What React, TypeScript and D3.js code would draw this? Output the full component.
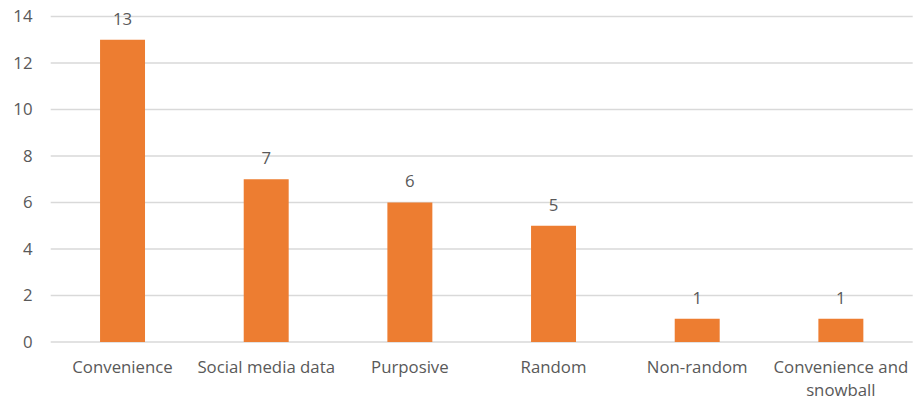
import React from "react";
import * as d3 from "d3";

const categories: string[][] = [
  ["Convenience"],
  ["Social media data"],
  ["Purposive"],
  ["Random"],
  ["Non-random"],
  ["Convenience and", "snowball"],
];
const counts: number[] = [13, 7, 6, 5, 1, 1];
const yTicks: number[] = [0, 2, 4, 6, 8, 10, 12, 14];

const W = 914;
const H = 402;
const left = 50.7;
const right = 912.7;
const top = 16.5;
const bottom = 342;
const FONT = "'Open Sans', 'Liberation Sans', sans-serif";
const TEXT = "#595959";
const FS = 16.8;

export default function App() {
  const x = d3
    .scaleBand<number>()
    .domain(counts.map((_, i) => i))
    .range([left, right])
    .paddingInner(0.687)
    .paddingOuter(0.687 / 2);
  const y = d3.scaleLinear().domain([0, 14]).range([bottom, top]);

  return (
    <svg
      width={W}
      height={H}
      style={{ position: "absolute", left: 0, top: 0, background: "#fff" }}
      fontFamily={FONT}
    >
      {yTicks.map((t) => (
        <g key={t}>
          <line x1={left} x2={right} y1={y(t)} y2={y(t)} stroke="#d9d9d9" strokeWidth={1.3} />
          <text x={32.5} y={y(t)} dy="0.35em" textAnchor="end" fontSize={FS} fill={TEXT}>
            {t}
          </text>
        </g>
      ))}
      {counts.map((v, i) => {
        const bx = x(i)!;
        const bw = x.bandwidth();
        const cx = bx + bw / 2;
        return (
          <g key={i}>
            <rect x={bx} y={y(v)} width={bw} height={y(0) - y(v)} fill="#ED7D31" />
            <text x={cx} y={y(v) - 21} dy="0.35em" textAnchor="middle" fontSize={FS} fill={TEXT}>
              {v}
            </text>
            {categories[i].map((line, j) => (
              <text
                key={j}
                x={cx}
                y={367 + j * 23}
                dy="0.35em"
                textAnchor="middle"
                fontSize={FS}
                fill={TEXT}
              >
                {line}
              </text>
            ))}
          </g>
        );
      })}
    </svg>
  );
}
